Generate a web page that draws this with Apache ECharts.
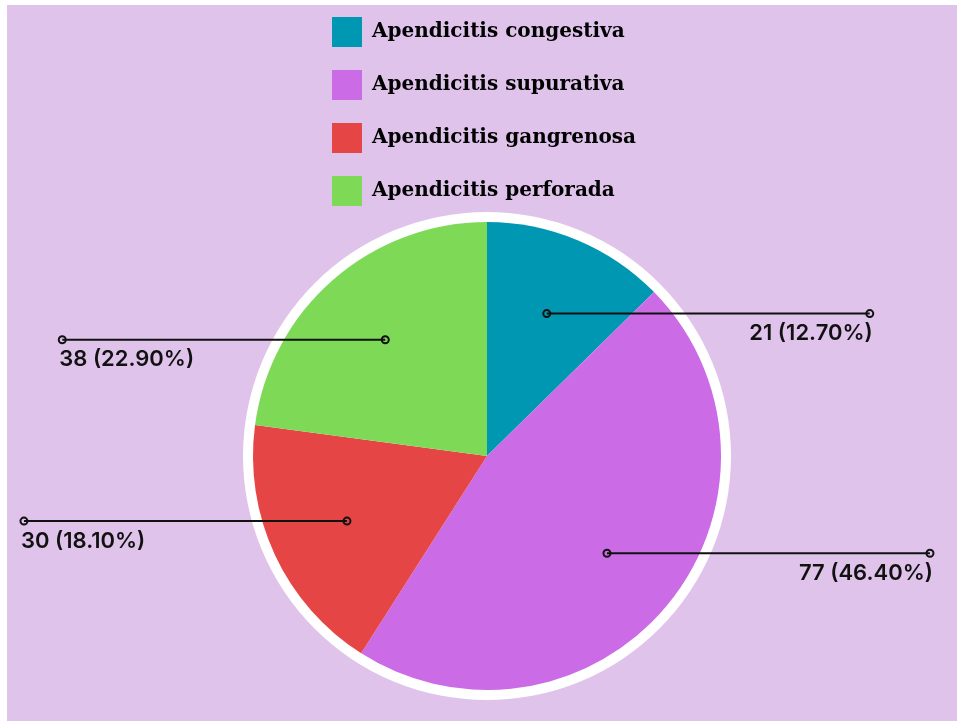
<!DOCTYPE html>
<html><head><meta charset="utf-8">
<script src="https://cdn.jsdelivr.net/npm/echarts@6/dist/echarts.min.js"></script>
<style>
html,body{margin:0;padding:0;background:#fff;}
#c{position:absolute;left:7px;top:5px;width:950px;height:716px;background:#dfc3eb;}
</style></head><body><div id="c"></div>
<script>
const categories = ['Apendicitis congestiva','Apendicitis supurativa','Apendicitis gangrenosa','Apendicitis perforada'];
const values = [21, 77, 30, 38];
const colors = ['#0097b2','#cb6ce6','#e64545','#7ed957'];

const chart = echarts.init(document.getElementById('c'));
const cx = 480, cy = 451, R = 234, RING = 244, LINE_LEN = 323;
const total = values.reduce((a,b)=>a+b,0);
function pct(v){ return (Math.round(v/total*1000)/10).toFixed(2)+'%'; }
let cum = 0;
const anchors = values.map(v=>{
  const mid = cum + v/2; cum += v;
  const ang = Math.PI/2 - 2*Math.PI*mid/total;
  const d = R*0.66;
  const x = cx + d*Math.cos(ang), y = cy - d*Math.sin(ang);
  const right = Math.cos(ang) >= 0;
  const ex = right ? x + LINE_LEN : x - LINE_LEN;
  return {x, y, ex, right};
});

const graphics = [];
anchors.forEach(a=>{
  graphics.push({type:'line', z:99, shape:{x1:a.x, y1:a.y, x2:a.ex, y2:a.y}, style:{stroke:'#111', lineWidth:2}});
  [a.x, a.ex].forEach(px=>{
    graphics.push({type:'circle', z:100, shape:{cx:px, cy:a.y, r:3.5}, style:{fill:'transparent', stroke:'#111', lineWidth:2}});
  });
});

chart.setOption({
  animation:false,
  legend:{orient:'vertical', left:325, top:12, padding:0, itemWidth:30, itemHeight:30, itemGap:23, icon:'rect', selectedMode:false,
    textStyle:{fontFamily:'DejaVu Serif', fontSize:20, fontWeight:'bold', color:'#000', padding:[0,0,0,5]}, data:categories},
  graphic: graphics,
  series:[
    {type:'pie', silent:true, center:[cx,cy], radius:[0,RING], data:[{value:1, itemStyle:{color:'#fff'}}],
      label:{show:false}, labelLine:{show:false}, itemStyle:{borderWidth:0}, z:1},
    {type:'pie', center:[cx,cy], radius:[0,R], startAngle:90, clockwise:true, avoidLabelOverlap:false,
      data: categories.map((n,i)=>({name:n, value:values[i], itemStyle:{color:colors[i]}})),
      itemStyle:{borderWidth:0},
      label:{show:true, position:'outside', formatter: p => p.value + ' (' + pct(p.value) + ')',
        fontFamily:'Inter', fontSize:22, fontWeight:600, color:'#111'},
      labelLine:{show:false},
      labelLayout: p => {
        const a = anchors[p.dataIndex];
        return {x: a.right ? a.ex + 3 : a.ex - 3, y: a.y + 9, align: a.right ? 'right' : 'left', verticalAlign:'top'};
      },
      emphasis:{disabled:true}, z:2}
  ]
});
</script></body></html>
